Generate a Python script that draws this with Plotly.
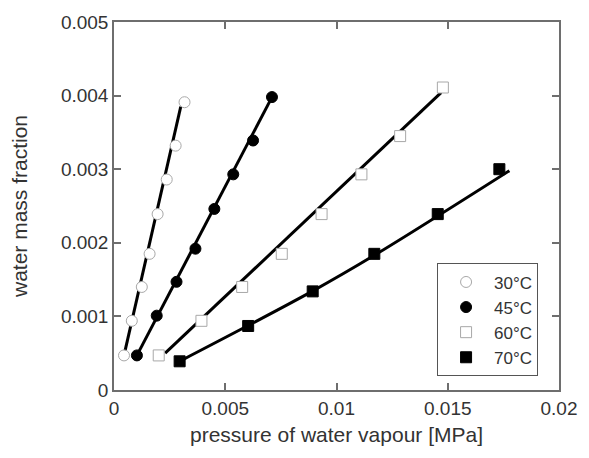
import plotly.graph_objects as go

# Data
labels = ["30°C", "45°C", "60°C", "70°C"]

p30 = [0.00045, 0.0008, 0.00125, 0.0016, 0.00196, 0.00237, 0.00277, 0.00317]
w30 = [0.00047, 0.00094, 0.0014, 0.00185, 0.00239, 0.00286, 0.00332, 0.00391]

p45 = [0.00103, 0.00192, 0.00281, 0.00366, 0.00451, 0.00536, 0.00625, 0.0071]
w45 = [0.00047, 0.00101, 0.00147, 0.00192, 0.00246, 0.00293, 0.00339, 0.00398]

p60 = [0.00201, 0.00393, 0.00576, 0.00754, 0.00933, 0.01112, 0.01286, 0.01478]
w60 = [0.00047, 0.00094, 0.0014, 0.00185, 0.00239, 0.00293, 0.00345, 0.00411]

p70 = [0.00295, 0.00603, 0.00893, 0.0117, 0.01455, 0.01732]
w70 = [0.00039, 0.00087, 0.00134, 0.00185, 0.00239, 0.003]

# fitted curves
fit30_x = [0.00045, 0.003]
fit30_y = [0.00047, 0.00385]
fit45_x = [0.00103, 0.0071]
fit45_y = [0.00047, 0.00398]
fit60_x = [0.0023, 0.0147]
fit60_y = [0.00050, 0.00404]
fit70_x = [0.00295, 0.0089, 0.0117, 0.01777]
fit70_y = [0.00039, 0.00134, 0.00183, 0.00298]

x_ticks = [0, 0.005, 0.01, 0.015, 0.02]
x_tick_text = ["0", "0.005", "0.01", "0.015", "0.02"]
y_ticks = [0, 0.001, 0.002, 0.003, 0.004, 0.005]
y_tick_text = ["0", "0.001", "0.002", "0.003", "0.004", "0.005"]

FONT = "Arial, Liberation Sans, sans-serif"
AX = "#6e6e6e"
TXT = "#333333"

fig = go.Figure()

for fx, fy in [(fit30_x, fit30_y), (fit45_x, fit45_y), (fit60_x, fit60_y), (fit70_x, fit70_y)]:
    fig.add_trace(go.Scatter(x=fx, y=fy, mode="lines", line=dict(color="black", width=3, shape="spline"),
                             showlegend=False, hoverinfo="skip"))

series = [
    (p30, w30, "circle", "white", "#a8a8a8"),
    (p45, w45, "circle", "black", "black"),
    (p60, w60, "square", "white", "#a8a8a8"),
    (p70, w70, "square", "black", "black"),
]
for (px, wy, sym, fill, edge), name in zip(series, labels):
    fig.add_trace(go.Scatter(x=px, y=wy, mode="markers", name=name,
                             marker=dict(symbol=sym, size=11, color=fill, line=dict(color=edge, width=1))))

axis_common = dict(showgrid=False, zeroline=False, showline=True, linecolor=AX, linewidth=1.5,
                   mirror="allticks", ticks="inside", ticklen=7, tickcolor=AX, tickwidth=1.5,
                   tickfont=dict(family=FONT, size=19, color=TXT))

fig.update_xaxes(range=[0, 0.02], tickvals=x_ticks, ticktext=x_tick_text,
                 title=dict(text="pressure of water vapour [MPa]", font=dict(family=FONT, size=21, color=TXT), standoff=10),
                 **axis_common)
fig.update_yaxes(range=[0, 0.005], tickvals=y_ticks, ticktext=y_tick_text,
                 title=dict(text="water mass fraction", font=dict(family=FONT, size=21, color=TXT), standoff=28),
                 **axis_common)

fig.update_layout(
    width=589, height=458,
    margin=dict(l=114, r=26, t=18, b=68),
    paper_bgcolor="white", plot_bgcolor="white",
    font=dict(family=FONT, color=TXT),
    legend=dict(x=0.726, y=0.344, xanchor="left", yanchor="top",
                bordercolor="#555", borderwidth=1, bgcolor="white",
                font=dict(family=FONT, size=17, color=TXT), itemwidth=46, tracegroupgap=0),
)

fig.write_html("out.html")
